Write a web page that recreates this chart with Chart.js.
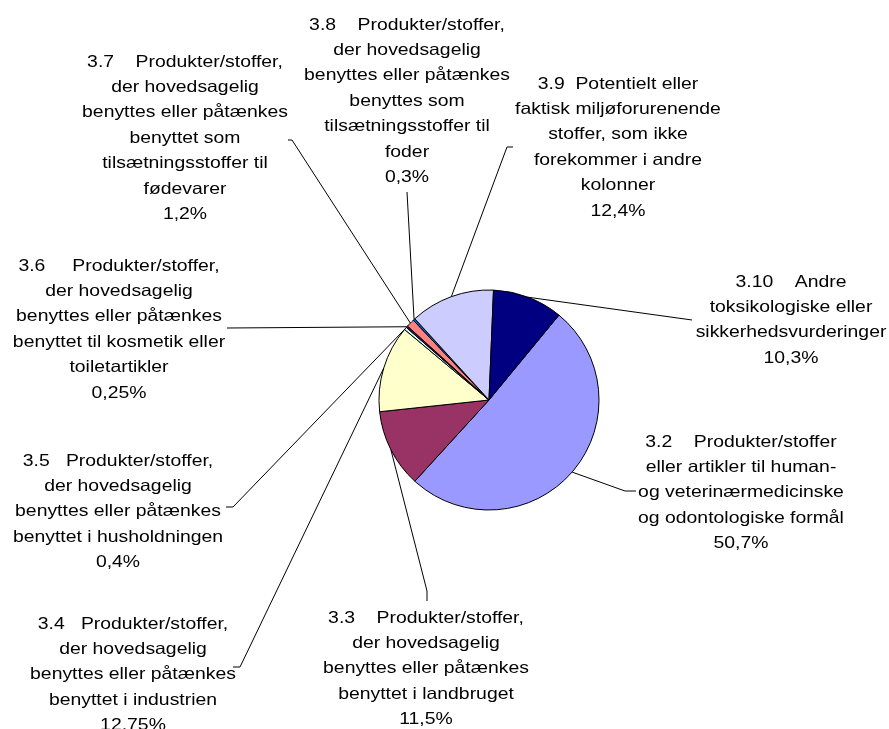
<!DOCTYPE html>
<html>
<head>
<meta charset="utf-8">
<script src="https://cdn.jsdelivr.net/npm/chart.js@4.4.1/dist/chart.umd.min.js"></script>
<style>
  html, body { margin: 0; padding: 0; background: #ffffff; }
  #wrap { width: 889px; height: 729px; position: relative; }
</style>
</head>
<body>
<div id="wrap"><canvas id="c" width="889" height="729"></canvas></div>
<script>
// ---- data ----
const categories = [
  ["3.2    Produkter/stoffer", "eller artikler til human-", "og veterinærmedicinske", "og odontologiske formål"],
  ["3.3    Produkter/stoffer,", "der hovedsagelig", "benyttes eller påtænkes", "benyttet i landbruget"],
  ["3.4   Produkter/stoffer,", "der hovedsagelig", "benyttes eller påtænkes", "benyttet i industrien"],
  ["3.5   Produkter/stoffer,", "der hovedsagelig", "benyttes eller påtænkes", "benyttet i husholdningen"],
  ["3.6     Produkter/stoffer,", "der hovedsagelig", "benyttes eller påtænkes", "benyttet til kosmetik eller", "toiletartikler"],
  ["3.7    Produkter/stoffer,", "der hovedsagelig", "benyttes eller påtænkes", "benyttet som", "tilsætningsstoffer til", "fødevarer"],
  ["3.8    Produkter/stoffer,", "der hovedsagelig", "benyttes eller påtænkes", "benyttes som", "tilsætningsstoffer til", "foder"],
  ["3.9  Potentielt eller", "faktisk miljøforurenende", "stoffer, som ikke", "forekommer i andre", "kolonner"],
  ["3.10    Andre", "toksikologiske eller", "sikkerhedsvurderinger"]
];
const values = [50.7, 11.5, 12.75, 0.4, 0.25, 1.2, 0.3, 12.4, 10.3];

// ---- styling / layout (not data) ----
const colors = ["#9999FF", "#993366", "#FFFFCC", "#CCFFFF", "#660066", "#FF8080", "#0066CC", "#CCCCFF", "#000080"];
// label block: centre x, first line centre y, leader bend point and end point
const labelLayout = [
  { cx: 741, y0: 442, bend: [625, 491], end: [636, 491] },
  { cx: 426, y0: 618, bend: [427, 591], end: [427, 601] },
  { cx: 133, y0: 624, bend: [240, 667], end: [233, 667] },
  { cx: 118, y0: 461, bend: [233, 507], end: [226, 507] },
  { cx: 119, y0: 266, bend: null,       end: [227, 328] },
  { cx: 185, y0: 62,  bend: [292, 140], end: [288, 140] },
  { cx: 407, y0: 25,  bend: null,       end: [407, 192] },
  { cx: 618, y0: 84,  bend: [507, 147], end: [513, 147] },
  { cx: 791, y0: 282, bend: null,       end: [692, 320] }
];
const LINE_H = 25.4;
const FONT = '16.5px "Liberation Sans", Arial, sans-serif';
const SCALE_X = 1.175;

function pctText(v) { return String(v).replace('.', ',') + '%'; }

const labelPlugin = {
  id: 'excelLabels',
  afterDatasetsDraw(chart) {
    const ctx = chart.ctx;
    const meta = chart.getDatasetMeta(0);
    ctx.save();
    ctx.strokeStyle = '#000000';
    ctx.lineWidth = 1;
    meta.data.forEach((arc, i) => {
      const p = arc.getProps(['x', 'y', 'startAngle', 'endAngle', 'outerRadius'], true);
      const mid = (p.startAngle + p.endAngle) / 2;
      const sx = p.x + Math.cos(mid) * p.outerRadius;
      const sy = p.y + Math.sin(mid) * p.outerRadius;
      const L = labelLayout[i];
      ctx.beginPath();
      ctx.moveTo(sx, sy);
      if (L.bend) {
        ctx.lineTo(L.bend[0], L.bend[1]);
      }
      ctx.lineTo(L.end[0], L.end[1]);
      ctx.stroke();
    });
    ctx.fillStyle = '#000000';
    ctx.font = FONT;
    ctx.textAlign = 'center';
    ctx.textBaseline = 'middle';
    categories.forEach((lines, i) => {
      const L = labelLayout[i];
      const all = lines.concat([pctText(values[i])]);
      all.forEach((t, k) => {
        ctx.save();
        ctx.translate(L.cx, L.y0 + k * LINE_H);
        ctx.scale(SCALE_X, 1);
        ctx.fillText(t, 0, 0);
        ctx.restore();
      });
    });
    ctx.restore();
  }
};

new Chart(document.getElementById('c'), {
  type: 'pie',
  data: {
    labels: categories.map(l => l.join(' ')),
    datasets: [{
      data: values,
      backgroundColor: colors,
      borderColor: '#000000',
      borderWidth: 1
    }]
  },
  options: {
    responsive: false,
    animation: false,
    rotation: 39.5,
    layout: { padding: { left: 378.5, right: 289.5, top: 289.5, bottom: 218.5 } },
    plugins: {
      legend: { display: false },
      tooltip: { enabled: false }
    }
  },
  plugins: [labelPlugin]
});
</script>
</body>
</html>
